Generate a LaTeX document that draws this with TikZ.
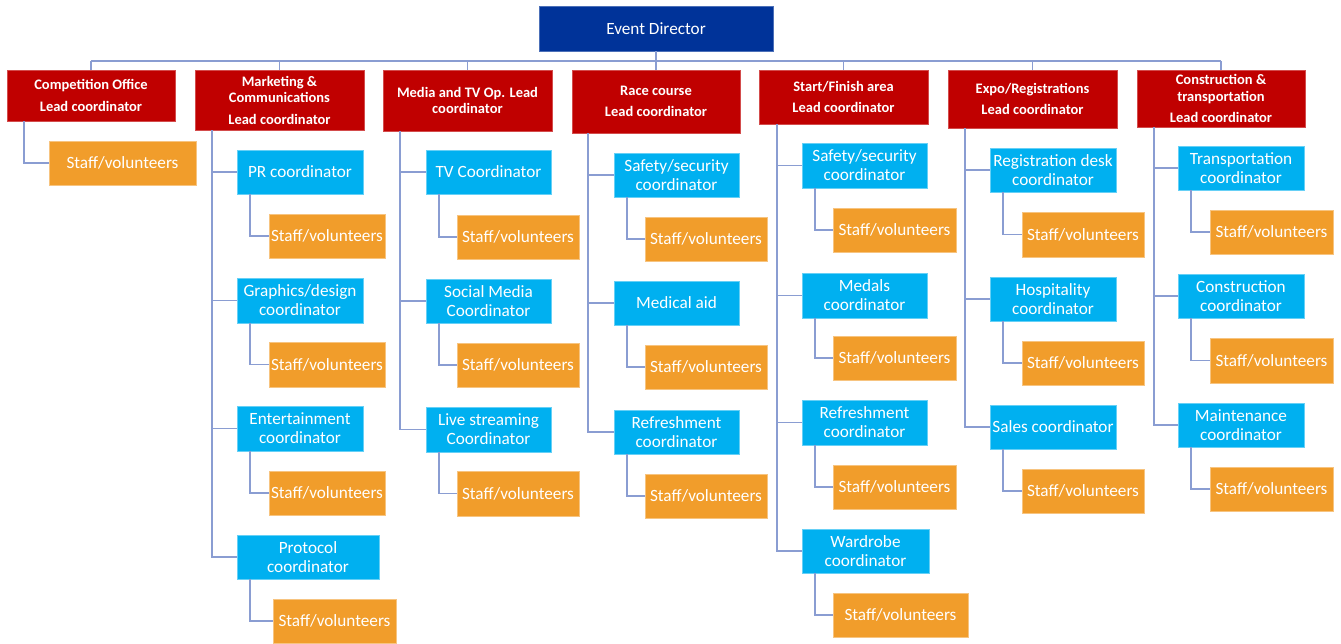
\documentclass[tikz,border=0pt]{standalone}
\usepackage{fontspec}
\setmainfont{Carlito}
\definecolor{leadred}{HTML}{C00000}
\definecolor{dirblue}{HTML}{003399}
\definecolor{coordcyan}{HTML}{00B0F0}
\definecolor{stafforange}{HTML}{F19D2B}
\definecolor{linkblue}{HTML}{8A9DD2}
\newcommand\bx[7]{\node[#2, minimum width={(#5-#3)*1pt}, minimum height={(#6-#4)*1pt}] (#1) at ({(#3+#5)/2},{(#4+#6)/2}) {#7};}
\tikzset{
  basebox/.style={inner sep=0pt, align=center, text=white, line width=0.6pt},
  dirbox/.style={basebox, fill=dirblue, draw=dirblue!70!white, font=\fontsize{17.2}{19}\selectfont},
  leadbox/.style={basebox, fill=leadred, draw=leadred!70!white, font=\bfseries\fontsize{14.5}{16.5}\selectfont},
  coordbox/.style={basebox, fill=coordcyan, draw=coordcyan!60!white, font=\fontsize{17.2}{19}\selectfont},
  staffbox/.style={basebox, fill=stafforange, draw=stafforange!60!white, font=\fontsize{17.2}{19}\selectfont},
  link/.style={draw=linkblue, line width=1.6pt}
}
\begin{document}
\begin{tikzpicture}[x=1pt,y=-1pt]
\useasboundingbox (0,0) rectangle (1341,643);
\coordinate (bus) at (0,61);
% top
\bx{dir}{dirbox}{539}{6}{773}{51}{Event Director}
% leads
\bx{L1}{leadbox}{7}{70}{175}{121}{Competition Office\\[5pt]Lead coordinator}
\bx{L2}{leadbox}{195}{70}{364}{130}{Marketing \&\\Communications\\[5pt]Lead coordinator}
\bx{L3}{leadbox}{383}{70}{552}{131}{Media and TV Op. Lead\\coordinator}
\bx{L4}{leadbox}{572}{70}{740}{133}{Race course\\[5pt]Lead coordinator}
\bx{L5}{leadbox}{759}{70}{928}{124}{Start/Finish area\\[5pt]Lead coordinator}
\bx{L6}{leadbox}{948}{70}{1117}{128}{Expo/Registrations\\[5pt]Lead coordinator}
\bx{L7}{leadbox}{1137}{70}{1305}{127}{Construction \&\\transportation\\[5pt]Lead coordinator}
% column 1
\bx{S1}{staffbox}{49}{141}{196}{185}{Staff/volunteers}
% column 2
\bx{C21}{coordbox}{237}{150}{363}{194}{PR coordinator}
\bx{S21}{staffbox}{269}{214}{385}{258}{Staff/volunteers}
\bx{C22}{coordbox}{237}{278}{363}{323}{Graphics/design\\coordinator}
\bx{S22}{staffbox}{269}{342}{385}{387}{Staff/volunteers}
\bx{C23}{coordbox}{237}{406}{363}{451}{Entertainment\\coordinator}
\bx{S23}{staffbox}{269}{471}{385}{515}{Staff/volunteers}
\bx{C24}{coordbox}{237}{535}{379}{579}{Protocol\\coordinator}
\bx{S24}{staffbox}{273}{599}{396}{643}{Staff/volunteers}
% column 3
\bx{C31}{coordbox}{426}{150}{551}{194}{TV Coordinator}
\bx{S31}{staffbox}{457}{215}{579}{259}{Staff/volunteers}
\bx{C32}{coordbox}{426}{279}{551}{323}{Social Media\\Coordinator}
\bx{S32}{staffbox}{457}{343}{579}{387}{Staff/volunteers}
\bx{C33}{coordbox}{426}{407}{551}{452}{Live streaming\\Coordinator}
\bx{S33}{staffbox}{457}{471}{579}{516}{Staff/volunteers}
% column 4
\bx{C41}{coordbox}{614}{153}{739}{197}{Safety/security\\coordinator}
\bx{S41}{staffbox}{645}{217}{767}{261}{Staff/volunteers}
\bx{C42}{coordbox}{614}{281}{739}{325}{Medical aid}
\bx{S42}{staffbox}{645}{345}{767}{389}{Staff/volunteers}
\bx{C43}{coordbox}{614}{410}{739}{454}{Refreshment\\coordinator}
\bx{S43}{staffbox}{645}{474}{767}{518}{Staff/volunteers}
% column 5
\bx{C51}{coordbox}{802}{143}{927}{188}{Safety/security\\coordinator}
\bx{S51}{staffbox}{833}{208}{956}{252}{Staff/volunteers}
\bx{C52}{coordbox}{802}{273}{927}{318}{Medals\\coordinator}
\bx{S52}{staffbox}{833}{336}{956}{380}{Staff/volunteers}
\bx{C53}{coordbox}{802}{400}{927}{445}{Refreshment\\coordinator}
\bx{S53}{staffbox}{833}{465}{956}{509}{Staff/volunteers}
\bx{C54}{coordbox}{802}{529}{929}{573}{Wardrobe\\coordinator}
\bx{S54}{staffbox}{833}{593}{968}{637}{Staff/volunteers}
% column 6
\bx{C61}{coordbox}{990}{148}{1116}{192}{Registration desk\\coordinator}
\bx{S61}{staffbox}{1022}{212}{1144}{257}{Staff/volunteers}
\bx{C62}{coordbox}{990}{277}{1116}{321}{Hospitality\\coordinator}
\bx{S62}{staffbox}{1022}{341}{1144}{385}{Staff/volunteers}
\bx{C63}{coordbox}{990}{405}{1116}{449}{Sales coordinator}
\bx{S63}{staffbox}{1022}{469}{1144}{513}{Staff/volunteers}
% column 7
\bx{C71}{coordbox}{1178}{146}{1304}{190}{Transportation\\coordinator}
\bx{S71}{staffbox}{1210}{210}{1333}{254}{Staff/volunteers}
\bx{C72}{coordbox}{1178}{274}{1304}{318}{Construction\\coordinator}
\bx{S72}{staffbox}{1210}{338}{1333}{383}{Staff/volunteers}
\bx{C73}{coordbox}{1178}{403}{1304}{447}{Maintenance\\coordinator}
\bx{S73}{staffbox}{1210}{467}{1333}{511}{Staff/volunteers}
% connectors: bus
\path[link] (dir.south) -- (dir.south |- bus);
\path[link] (L1.north |- bus) -- (L7.north |- bus);
\foreach \l in {L1,L2,L3,L4,L5,L6,L7} {\path[link] (\l.north |- bus) -- (\l.north);}
% leads to coordinators
\path[link] ([xshift=17pt]L1.south west) |- (S1.west);
\foreach \c in {C21,C22,C23,C24} {\path[link] ([xshift=17pt]L2.south west) |- (\c.west);}
\foreach \c in {C31,C32,C33} {\path[link] ([xshift=17pt]L3.south west) |- (\c.west);}
\foreach \c in {C41,C42,C43} {\path[link] ([xshift=16pt]L4.south west) |- (\c.west);}
\foreach \c in {C51,C52,C53,C54} {\path[link] ([xshift=18pt]L5.south west) |- (\c.west);}
\foreach \c in {C61,C62,C63} {\path[link] ([xshift=17pt]L6.south west) |- (\c.west);}
\foreach \c in {C71,C72,C73} {\path[link] ([xshift=17pt]L7.south west) |- (\c.west);}
% coordinators to staff
\foreach \n in {21,22,23,24,31,32,33,41,42,43,51,52,53,54,61,62,63,71,72,73} {\path[link] ([xshift=13pt]C\n.south west) |- (S\n.west);}
\end{tikzpicture}
\end{document}
